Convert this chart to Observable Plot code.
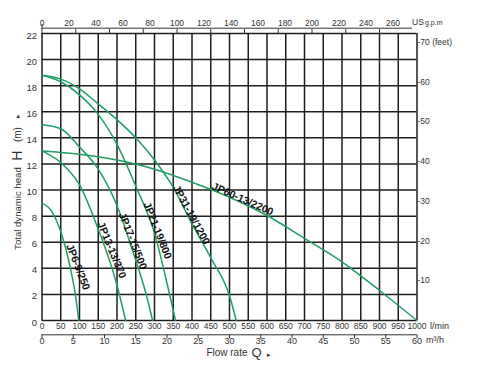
<!DOCTYPE html>
<html><head><meta charset="utf-8">
<script src="https://cdn.jsdelivr.net/npm/d3@7"></script>
<script src="https://cdn.jsdelivr.net/npm/@observablehq/plot@0.6"></script>
<style>body{margin:0;background:#fff}</style>
</head><body><div id="chart"></div>
<script>
// ---- tick values / labels ----
const lminTicks = [0,50,100,150,200,250,300,350,400,450,500,550,600,650,700,750,800,850,900,950,1000];
const headTicks = [0,2,4,6,8,10,12,14,16,18,20,22];
const m3hTicks = [0,5,10,15,20,25,30,35,40,45,50,55,60];
const gpmLabels = [0,20,40,60,80,100,120,140,160,180,200,220,240,260];
const gpmMinorTicks = [25,50,75,100,125,150,175,200,225,250];
const feetTicks = [10,20,30,40,50,60,70];
const feetLabels = ["-10","-20","-30","-40","-50","-60","-70 (feet)"];

// unit conversions (to l/min and m)
const GPM = 3.6;          // l/min per gpm as drawn on the original's top axis
const M3H = 1000 / 60;    // l/min per m3/h
const FT = 0.3048;        // m per foot

// ---- pump curves: flow (l/min) and head (m) ----
const jp6Q  = [0, 25, 50, 75, 90, 98];
const jp6H  = [9, 8.4, 6.8, 4.1, 1.8, 0];
const jp13Q = [0, 50, 100, 150, 200, 223];
const jp13H = [13, 12.1, 10.4, 7.0, 2.7, 0];
const jp17Q = [0, 50, 100, 150, 200, 250, 275, 295];
const jp17H = [15, 14.7, 13.3, 11.6, 8.8, 4.6, 2.3, 0];
const jp21Q = [0, 50, 100, 150, 200, 250, 300, 337, 356];
const jp21H = [18.8, 18.3, 17.3, 15.8, 13.5, 10.3, 6.7, 2.4, 0];
const jp31Q = [0, 50, 100, 150, 200, 250, 300, 350, 400, 450, 500, 518];
const jp31H = [18.8, 18.5, 17.75, 16.6, 15.4, 14.0, 12.3, 10.2, 7.4, 4.8, 1.9, 0];
const jp60Q = [0, 100, 200, 300, 400, 500, 600, 700, 800, 900, 1000];
const jp60H = [13, 12.75, 12.3, 11.6, 10.6, 9.45, 8.05, 6.3, 4.5, 2.3, 0];

const seriesNames = ["JP6-9/250","JP13-13/370","JP17-15/500","JP21-19/800","JP31-19/1200","JP60-13/2200"];
const seriesQ = [jp6Q, jp13Q, jp17Q, jp21Q, jp31Q, jp60Q];
const seriesH = [jp6H, jp13H, jp17H, jp21H, jp31H, jp60H];

// label anchor points (data units) and angles
const labelQ = [96, 186, 242, 308, 398, 535];
const labelH = [4.1, 5.4, 6.1, 6.9, 8.1, 9.3];
const labelAngle = [68.6, 67.6, 68.5, 68.5, 61.5, 24];

const rows = [];
seriesNames.forEach((name, s) => seriesQ[s].forEach((q, i) => rows.push({name, q, h: seriesH[s][i]})));
const labels = seriesNames.map((name, i) => ({name, q: labelQ[i], h: labelH[i], a: labelAngle[i]}));

const green = "#1f9e64";
const grid = "#1e1e1e";
const ink = "#333";
const font = "'Liberation Sans', Arial, sans-serif";

const chart = Plot.plot({
  width: 485, height: 365,
  marginLeft: 41.5, marginRight: 68.5, marginTop: 33, marginBottom: 45,
  x: {domain: [0, 1000], axis: null, label: null},
  y: {domain: [0, 22], axis: null, label: null},
  style: {fontFamily: font, background: "#fff", color: ink, overflow: "visible"},
  marks: [
    Plot.ruleX(lminTicks, {stroke: grid, strokeWidth: 1.5}),
    Plot.ruleY(headTicks, {stroke: grid, strokeWidth: 1.5}),
    Plot.line(rows, {x: "q", y: "h", z: "name", stroke: green, strokeWidth: 1.5, curve: "monotone-x"}),
    Plot.text(labels, {x: "q", y: "h", text: "name", rotate: "a", fontWeight: "bold", fontSize: 10.5, fill: "#111"}),

    // left head labels
    Plot.text(headTicks, {y: d => d, text: d => String(d), frameAnchor: "left", dx: -5, dy: 2, textAnchor: "end", fontSize: 9.5, fill: ink}),
    // right feet labels
    Plot.text(feetTicks, {y: d => d * FT, text: (d, i) => feetLabels[i], frameAnchor: "right", dx: 0.5, textAnchor: "start", fontSize: 8.5, fill: ink}),

    // bottom l/min labels
    Plot.text(lminTicks, {x: d => d, text: d => String(d), frameAnchor: "bottom", dy: 8, fontSize: 8.5, fill: ink}),
    Plot.text(["l/min"], {frameAnchor: "bottom-right", dx: 13, dy: 8, textAnchor: "start", fontSize: 9, fill: ink}),

    // m3/h axis
    Plot.ruleY([0], {x1: 0, x2: 1000, dy: 14.3, stroke: ink, strokeWidth: 1}),
    Plot.axisX(m3hTicks.map(d => d * M3H), {anchor: "bottom", label: null, tickSize: 4, dy: 14.3, tickFormat: () => "", stroke: ink}),
    Plot.text(m3hTicks, {x: d => d * M3H, text: d => String(d), frameAnchor: "bottom", dy: 23, fontSize: 9, fill: ink}),
    Plot.text(["m³/h"], {frameAnchor: "bottom-right", dx: 9, dy: 22, textAnchor: "start", fontSize: 9, fill: ink}),

    // top gpm axis
    Plot.ruleY([22], {x1: 0, x2: 988, dy: -5.3, stroke: ink, strokeWidth: 1}),
    Plot.axisX(gpmMinorTicks.map(g => g * GPM), {anchor: "top", label: null, tickSize: 5, tickFormat: () => "", stroke: ink}),
    Plot.axisX([0], {anchor: "top", label: null, tickSize: 10, tickFormat: () => "", stroke: ink}),
    Plot.text(gpmLabels, {x: g => g * GPM, text: g => String(g), frameAnchor: "top", dy: -14, fontSize: 8.5, fill: ink}),
    Plot.text(["US"], {frameAnchor: "top-right", dx: -5, dy: -14.5, textAnchor: "start", fontSize: 8.5, fill: ink}),
    Plot.text(["g.p.m"], {frameAnchor: "top-right", dx: 8, dy: -13.5, textAnchor: "start", fontSize: 7, fill: ink}),

    // axis titles
    Plot.text(["Total dynamic head"], {frameAnchor: "left", dx: -24, y: 8.58, rotate: -90, textAnchor: "middle", fontSize: 9.6, fill: ink}),
    Plot.text(["H"], {frameAnchor: "left", dx: -24, y: 12.64, rotate: -90, textAnchor: "middle", fontSize: 14, fill: ink}),
    Plot.text(["(m)"], {frameAnchor: "left", dx: -24, y: 14.25, rotate: -90, textAnchor: "middle", fontSize: 10, fill: ink}),
    Plot.text(["▸"], {frameAnchor: "left", dx: -24, y: 15.7, rotate: -90, textAnchor: "middle", fontSize: 7, fill: ink}),
    Plot.text(["Flow rate"], {frameAnchor: "bottom", dx: 18, dy: 35, textAnchor: "end", fontSize: 10, fill: ink}),
    Plot.text(["Q"], {frameAnchor: "bottom", dx: 22, dy: 36, textAnchor: "start", fontSize: 13, fill: ink}),
    Plot.text(["▸"], {frameAnchor: "bottom", dx: 37, dy: 36, textAnchor: "start", fontSize: 7, fill: ink})
  ]
});
document.getElementById("chart").append(chart);
</script>
</body></html>
